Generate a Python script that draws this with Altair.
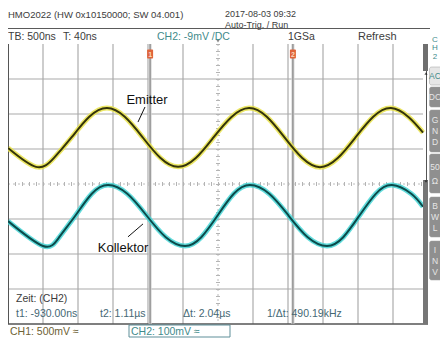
import altair as alt
import pandas as pd

FONT = "Liberation Sans"

# ---- values ----
# time in ns (screen centre = +40 ns), level in vertical divisions (0 = centre line)
emit_t = [-2960, -2560, -2306, -2053, -1799, -1546, -1292, -1039, -785, -531, -277, -24,
          229, 483, 737, 990, 1244, 1497, 1751, 2004, 2258, 2511, 2765, 2969]
emit_v = [1.03, 0.49, 0.74, 1.33, 1.92, 2.17, 1.92, 1.34, 0.75, 0.49, 0.74, 1.33,
          1.91, 2.17, 1.92, 1.33, 0.74, 0.48, 0.74, 1.33, 1.92, 2.17, 1.91, 1.47]
coll_t = [-2960, -2460, -2228, -1996, -1763, -1531, -1256, -981, -706, -431, -199, 34,
          265, 497, 772, 1047, 1322, 1597, 1829, 2061, 2294, 2526, 2801, 2969]
coll_v = [-1.06, -1.77, -1.52, -0.90, -0.28, -0.03, -0.28, -0.90, -1.52, -1.77, -1.52, -0.90,
          -0.28, -0.03, -0.28, -0.90, -1.52, -1.77, -1.52, -0.90, -0.28, -0.03, -0.28, -0.65]
cursor_t = [-930, 1110]
cursor_names = ["1", "2"]
div_t = [-2960 + 500 * i for i in range(13)]
div_v = [-4, -3, -2, -1, 0, 1, 2, 3, 4]

trace_names = ["Emitter", "Kollektor"]
label_t = [-974, -1317]
label_v = [2.40, -1.83]
leader_t = [-1003, -1246]
leader_v = [2.20, -1.51]
leader_t2 = [-1103, -1031]
leader_v2 = [1.77, -1.14]

header_texts = ["HMO2022 (HW 0x10150000; SW 04.001)", "2017-08-03 09:32", "Auto-Trig. / Run"]
status_texts = ["TB: 500ns", "T: 40ns", "CH2: -9mV /DC", "1GSa", "Refresh"]
measure_texts = ["Zeit: (CH2)", "t1: -930.00ns", "t2: 1.11µs", "Δt: 2.04µs", "1/Δt: 490.19kHz"]
channel_texts = ["CH1: 500mV ≈", "CH2: 100mV ≈"]
panel_title = ["C", "H", "2"]
button_texts = [["AC"], ["DC"], ["G", "N", "D"], ["50", "Ω"], ["B", "W", "L"], ["I", "N", "V"]]

W, H = 420, 280
xs = alt.Scale(domain=[-2960, 3040], nice=False, zero=False)
ys = alt.Scale(domain=[-4, 4], nice=False, zero=False)
one = pd.DataFrame({"k": [0]})


def X(f="t"):
    return alt.X(f + ":Q", scale=xs, axis=None)


def Y(f="v"):
    return alt.Y(f + ":Q", scale=ys, axis=None)


def txt(s, x, y, size=11, color="#3a3a3a", align="left", **kw):
    return alt.Chart(one).mark_text(
        text=s, align=align, baseline="middle", fontSize=size, color=color, font=FONT, **kw
    ).encode(x=alt.value(x), y=alt.value(y))


def box(x1, x2, y1, y2, **kw):
    return alt.Chart(one).mark_rect(**kw).encode(
        x=alt.value(x1), x2=alt.value(x2), y=alt.value(y1), y2=alt.value(y2))


layers = []

# graticule
vg = pd.DataFrame({"t": [div_t[i] for i in range(1, 12) if i != 6]})
layers.append(alt.Chart(vg).mark_rule(color="#cdcdcd", strokeWidth=2).encode(
    x=X(), y=alt.value(0), y2=alt.value(H)))
hg = pd.DataFrame({"v": [v for v in div_v[1:-1] if v != 0]})
layers.append(alt.Chart(hg).mark_rule(color="#a9a9a9", strokeWidth=1).encode(
    y=Y(), x=alt.value(0), x2=alt.value(415)))
# centre lines with sub-division ticks
ch = pd.DataFrame({"v": [0]})
layers.append(alt.Chart(ch).mark_rule(color="#bcbcbc", strokeWidth=1, strokeDash=[2, 3]).encode(
    y=Y(), x=alt.value(0), x2=alt.value(415)))
layers.append(alt.Chart(ch).mark_rule(color="#b4b4b4", strokeWidth=4, strokeDash=[1, 6]).encode(
    y=Y(), x=alt.value(0), x2=alt.value(415)))
cv = pd.DataFrame({"t": [div_t[6]]})
layers.append(alt.Chart(cv).mark_rule(color="#bcbcbc", strokeWidth=1, strokeDash=[2, 3]).encode(
    x=X(), y=alt.value(0), y2=alt.value(H)))
layers.append(alt.Chart(cv).mark_rule(color="#b4b4b4", strokeWidth=4, strokeDash=[1, 6]).encode(
    x=X(), y=alt.value(0), y2=alt.value(H)))
# border
layers.append(alt.Chart(one).mark_rule(color="#555555", strokeWidth=1).encode(
    x=alt.value(0.5), y=alt.value(0), y2=alt.value(H)))
layers.append(alt.Chart(one).mark_rule(color="#555555", strokeWidth=1.5).encode(
    y=alt.value(H), x=alt.value(0), x2=alt.value(W)))

# cursors
cur = pd.DataFrame({"t": cursor_t, "n": cursor_names})
layers.append(alt.Chart(cur).mark_rule(color="#d2d2d2", strokeWidth=3).encode(
    x=X(), y=alt.value(0), y2=alt.value(H)))
layers.append(alt.Chart(cur).mark_rule(color="#7c7c7c", strokeWidth=1).encode(
    x=X(), y=alt.value(0), y2=alt.value(H)))
layers.append(alt.Chart(cur).mark_rect(width=6, height=9, color="#e0653a", cornerRadius=1).encode(
    x=X(), y=alt.value(10)))
layers.append(alt.Chart(cur).mark_text(fontSize=7, color="#f8d8c0", font=FONT, fontWeight="bold",
                                       baseline="middle").encode(
    x=X(), y=alt.value(10.5), text="n:N"))
# trigger marker
layers.append(alt.Chart(cv).mark_point(shape="triangle-down", size=14, filled=True, color="#555555").encode(
    x=X(), y=alt.value(-3)))

# traces
em = pd.DataFrame({"t": emit_t, "v": emit_v})
co = pd.DataFrame({"t": coll_t, "v": coll_v})
layers.append(alt.Chart(em).mark_line(color="#e9e34a", strokeWidth=5, interpolate="natural", opacity=0.85).encode(
    x=X(), y=Y()))
layers.append(alt.Chart(em).mark_line(color="#34340a", strokeWidth=2, interpolate="natural").encode(
    x=X(), y=Y()))
layers.append(alt.Chart(co).mark_line(color="#46d6d6", strokeWidth=5, interpolate="natural", opacity=0.85).encode(
    x=X(), y=Y()))
layers.append(alt.Chart(co).mark_line(color="#0b4a4a", strokeWidth=2, interpolate="natural").encode(
    x=X(), y=Y()))

# trace labels
lab = pd.DataFrame({"t": label_t, "v": label_v, "s": trace_names,
                    "t1": leader_t, "v1": leader_v, "t2": leader_t2, "v2": leader_v2})
layers.append(alt.Chart(lab).mark_rule(color="#111111", strokeWidth=1).encode(
    x=X("t1"), y=Y("v1"), x2="t2:Q", y2="v2:Q"))
layers.append(alt.Chart(lab).mark_text(fontSize=13, color="#111111", font=FONT, baseline="middle").encode(
    x=X(), y=Y(), text="s:N"))

# right offset bar
layers.append(box(415, 420, 0, 27, fill="#6f6f6f"))
layers.append(alt.Chart(one).mark_rule(color="#555555", strokeWidth=1).encode(
    x=alt.value(418.5), y=alt.value(27), y2=alt.value(136)))
layers.append(box(415, 420, 136, H, fill="#767676"))
layers.append(alt.Chart(one).mark_point(shape="triangle-up", size=10, filled=True, color="#111111").encode(
    x=alt.value(418), y=alt.value(29.5)))
layers.append(alt.Chart(one).mark_point(shape="triangle-down", size=10, filled=True, color="#111111").encode(
    x=alt.value(418), y=alt.value(137.5)))

# header
hcol = "#3c3c3c"
layers.append(txt(header_texts[0], 0, -29.5, size=9.5, color=hcol))
layers.append(txt(header_texts[1], 217, -30.5, size=9, color=hcol))
layers.append(txt(header_texts[2], 217, -19.5, size=9, color=hcol))
layers.append(alt.Chart(one).mark_rule(color="#5a5a5a", strokeWidth=1).encode(
    y=alt.value(-15.5), x=alt.value(-8), x2=alt.value(422)))
layers.append(txt(status_texts[0], 0, -7.5, size=10.5, color=hcol))
layers.append(txt(status_texts[1], 55, -7.5, size=10.5, color=hcol))
layers.append(txt(status_texts[2], 149, -7.5, size=10.5, color="#3f8b8b"))
layers.append(txt(status_texts[3], 280, -7.5, size=10.5, color=hcol))
layers.append(txt(status_texts[4], 350, -7.5, size=11, color=hcol))

# side panel (squeezed into the visible page width)
PX = 427
for i, s in enumerate(panel_title):
    layers.append(txt(s, PX, -4.5 + 8.5 * i, size=8, color="#3f8b8b", align="center"))
btn = [(23, 41, "#e6e6e6", "#3f8b8b", [32]),
       (43, 63, "#8f8f8f", "#e6e6e6", [53]),
       (66, 108, "#8f8f8f", "#e6e6e6", [76, 87, 98]),
       (110, 149, "#8f8f8f", "#e6e6e6", [123, 137]),
       (153, 193, "#8f8f8f", "#e6e6e6", [162, 173, 184]),
       (197, 236, "#8f8f8f", "#e6e6e6", [206, 217, 228])]
for (y1, y2, fill, tc, ypos), letters in zip(btn, button_texts):
    layers.append(box(421.5, 436, y1, y2, fill=fill, cornerRadius=2, stroke="#9c9c9c", strokeWidth=0.5))
    for yy, s in zip(ypos, letters):
        layers.append(txt(s, PX, yy, size=8.5, color=tc, align="center"))

# measurement area
mcol = "#456874"
layers.append(txt(measure_texts[0], 8, 255, size=10.5, color=hcol))
layers.append(txt(measure_texts[1], 8, 270, size=10.5, color=mcol))
layers.append(txt(measure_texts[2], 92, 270, size=10.5, color=mcol))
layers.append(txt(measure_texts[3], 175, 270, size=10.5, color=mcol))
layers.append(txt(measure_texts[4], 259, 270, size=10.5, color=mcol))

# channel info
layers.append(txt(channel_texts[0], 2, 288, size=10.5, color="#6e6234"))
layers.append(box(121, 222, 281, 293, fill="#ffffff", stroke="#5f8f99", strokeWidth=1))
layers.append(txt(channel_texts[1], 123, 287.5, size=10.5, color="#3f8b8b"))

chart = alt.layer(*layers).properties(
    width=W, height=H,
    autosize=alt.AutoSizeParams(type="none"),
    padding={"left": 0, "top": 36, "right": 12, "bottom": 32},
    background="#ffffff",
).configure_view(stroke=None)

chart.save("out.html", embed_options={"renderer": "svg", "actions": False})
